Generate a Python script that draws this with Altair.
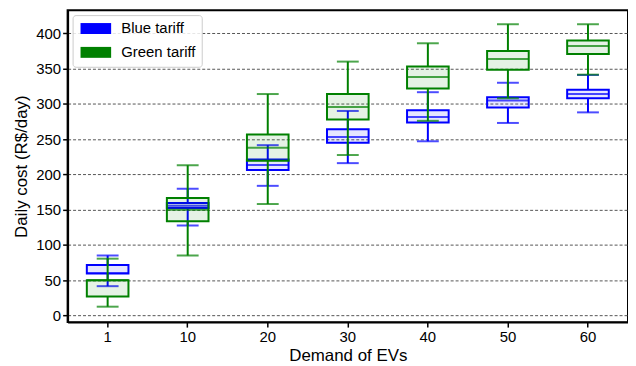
import altair as alt
import pandas as pd

cats = ["1", "10", "20", "30", "40", "50", "60"]
series = ["Blue tariff", "Green tariff"]
colors = ["#0000ff", "#008000"]

blue_low = [41.5, 127.5, 183.8, 216, 247, 273, 288]
blue_q1 = [59.4, 152.4, 206.3, 245, 273.5, 295, 308]
blue_med = [60, 155.6, 213.4, 253, 281.4, 305, 314]
blue_q3 = [71.5, 159.4, 221, 264, 291, 309.6, 320]
blue_high = [85, 179.6, 241.5, 290, 316.6, 330, 341]

green_low = [12.4, 85, 158, 227.5, 276, 308, 341.5]
green_q1 = [27, 133.5, 219.5, 278, 322, 348.6, 370.7]
green_med = [50, 150, 237.8, 295.5, 338, 363.6, 382]
green_q3 = [50, 166.5, 256.6, 314, 353, 375, 390]
green_high = [80.5, 213, 314, 360, 386, 413, 413]

y_ticks = [0, 50, 100, 150, 200, 250, 300, 350, 400]

FONT = "Liberation Sans"


def frame(name, low, q1, med, q3, high):
    return pd.DataFrame({"demand": cats, "tariff": name, "low": low, "q1": q1,
                         "med": med, "q3": q3, "high": high})


df_blue = frame(series[0], blue_low, blue_q1, blue_med, blue_q3, blue_high)
df_green = frame(series[1], green_low, green_q1, green_med, green_q3, green_high)

cscale = alt.Scale(domain=series, range=colors)
yscale = alt.Scale(domain=[-9.5, 433], nice=False, zero=False)

x_enc = alt.X("demand:N", sort=cats,
              scale=alt.Scale(paddingInner=0, paddingOuter=0),
              axis=alt.Axis(title="Demand of EVs", labelAngle=0, grid=False,
                            labelPadding=3, titlePadding=3))
y_axis = alt.Axis(title="Daily cost (R$/day)", values=y_ticks, grid=True,
                  gridDash=[3, 2], gridColor="#555555", gridWidth=1,
                  labelPadding=2, titlePadding=5)

legend = alt.Legend(title=None, orient="top-left", offset=5,
                    symbolType="M-1,-1H4.6V1H-1Z", symbolSize=121,
                    symbolStrokeWidth=0, symbolOpacity=1,
                    labelFontSize=15, labelFont=FONT, labelColor="black",
                    labelOffset=28, rowPadding=8, padding=6,
                    fillColor="rgba(255,255,255,0.85)", strokeColor="#cccccc",
                    cornerRadius=3)


def layers(df, col):
    base = alt.Chart(df).encode(x=x_enc)
    w_lo = base.mark_rule(strokeWidth=2, color=col).encode(
        y=alt.Y("low:Q", scale=yscale, axis=y_axis), y2="q1:Q")
    w_hi = base.mark_rule(strokeWidth=2, color=col).encode(
        y=alt.Y("q3:Q", scale=yscale, axis=y_axis), y2="high:Q")
    box = base.mark_bar(width=alt.RelativeBandSize(0.52), fillOpacity=0.1,
                        strokeWidth=2, stroke=col).encode(
        y=alt.Y("q1:Q", scale=yscale, axis=y_axis), y2="q3:Q",
        fill=alt.Fill("tariff:N", scale=cscale, legend=legend))
    med = base.mark_tick(size=42, thickness=2, color=col).encode(
        y=alt.Y("med:Q", scale=yscale, axis=y_axis))
    cap_lo = base.mark_tick(size=22, thickness=2, color=col).encode(
        y=alt.Y("low:Q", scale=yscale, axis=y_axis))
    cap_hi = base.mark_tick(size=22, thickness=2, color=col).encode(
        y=alt.Y("high:Q", scale=yscale, axis=y_axis))
    return [w_lo, w_hi, box, med, cap_lo, cap_hi]


chart = alt.layer(*layers(df_blue, colors[0]), *layers(df_green, colors[1])).properties(
    width=624, height=357,
    autosize=alt.AutoSizeParams(type="fit", contains="padding"),
    padding={"left": 4, "top": 1, "right": 0, "bottom": 0},
).configure_view(
    stroke="black", strokeWidth=2
).configure_axis(
    labelFont=FONT, labelFontSize=15, labelColor="black",
    titleFont=FONT, titleFontSize=17, titleFontWeight="normal", titleColor="black",
    domainColor="black", domainWidth=2, tickColor="black", tickSize=5, tickWidth=1.5,
)

chart.save("out.html", embed_options={"renderer": "svg", "actions": False})
